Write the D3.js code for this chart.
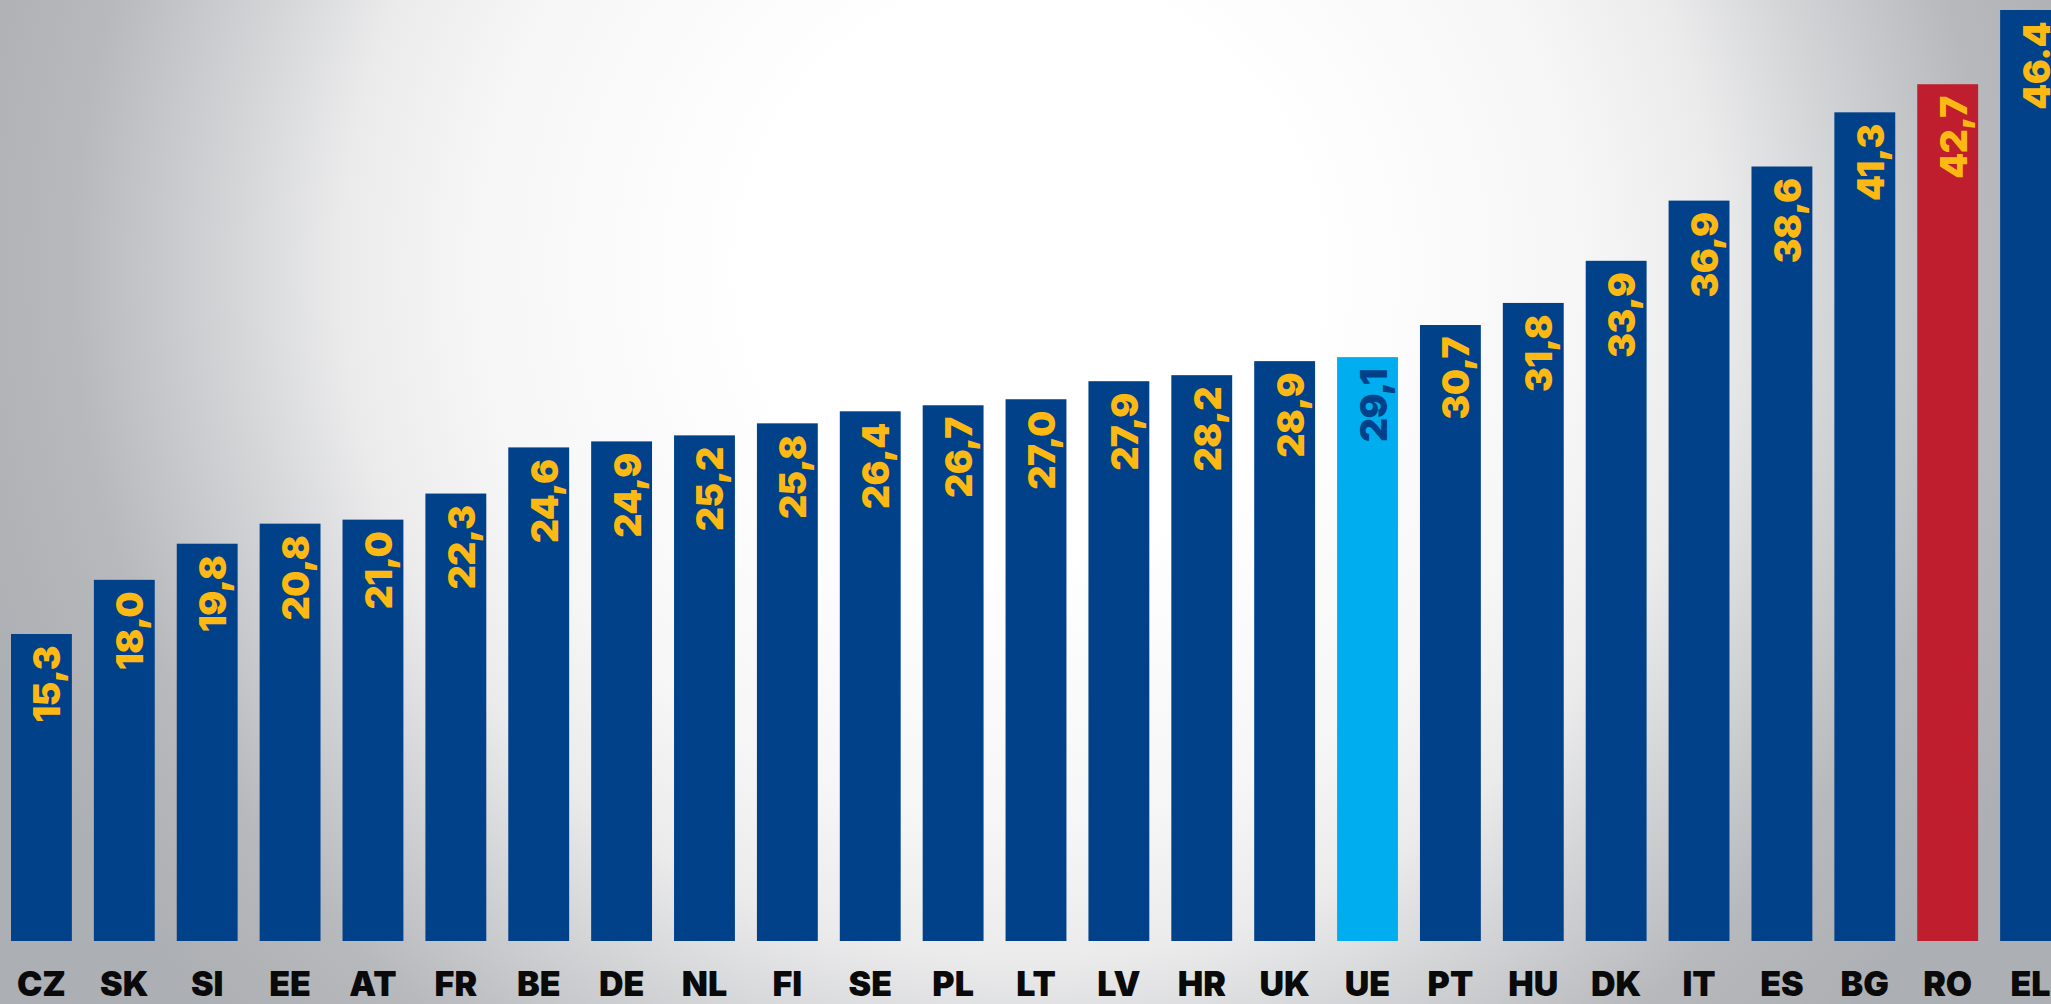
<!DOCTYPE html>
<html>
<head>
<meta charset="utf-8">
<script src="https://cdn.jsdelivr.net/npm/d3@7"></script>
<style>
  html, body { margin: 0; padding: 0; overflow: hidden; }
  svg { display: block; }
</style>
</head>
<body>
<svg id="chart" width="2051" height="1004"></svg>
<script>
const countries = ["CZ","SK","SI","EE","AT","FR","BE","DE","NL","FI","SE","PL","LT","LV","HR","UK","UE","PT","HU","DK","IT","ES","BG","RO","EL"]
const values = [15.3,18.0,19.8,20.8,21.0,22.3,24.6,24.9,25.2,25.8,26.4,26.7,27.0,27.9,28.2,28.9,29.1,30.7,31.8,33.9,36.9,38.6,41.3,42.7,46.4]
const valueLabels = ["15,3","18,0","19,8","20,8","21,0","22,3","24,6","24,9","25,2","25,8","26,4","26,7","27,0","27,9","28,2","28,9","29,1","30,7","31,8","33,9","36,9","38,6","41,3","42,7","46.4"]

const c_blue = "#00418a", c_light = "#00aeef", c_red = "#be1e2d", c_yellow = "#fdb913"
const barColor = d => d === "UE" ? c_light : d === "RO" ? c_red : c_blue

const width = 2051, height = 1004
const svg = d3.select("#chart")

// background
const defs = svg.append("defs")
const grad = defs.append("radialGradient")
  .attr("id", "bg")
  .attr("gradientUnits", "userSpaceOnUse")
  .attr("cx", 1030).attr("cy", 270).attr("r", 1110)
const stops = [[0, "#ffffff"], [0.25, "#ffffff"], [0.5, "#f6f6f6"], [0.62, "#ebebec"], [0.72, "#d4d5d7"], [0.86, "#b7b9bc"], [1, "#acafb3"]]
stops.forEach(s => grad.append("stop").attr("offset", s[0]).attr("stop-color", s[1]))
svg.append("rect").attr("width", width).attr("height", height).attr("fill", "url(#bg)")

const x = d3.scaleBand()
  .domain(countries)
  .range([11, 2061])
  .paddingInner(0.2655)
  .paddingOuter(0)

const y = d3.scaleLinear()
  .domain([0, 46.4])
  .range([941, 10])

const data = countries.map((c, i) => ({c, v: values[i], t: valueLabels[i]}))

// bars
svg.append("g").selectAll("rect")
  .data(data)
  .join("rect")
  .attr("x", d => x(d.c))
  .attr("y", d => y(d.v))
  .attr("width", x.bandwidth())
  .attr("height", d => y(0) - y(d.v))
  .attr("fill", d => barColor(d.c))

// values, rotated
svg.append("g").selectAll("text")
  .data(data)
  .join("text")
  .attr("transform", d => `translate(${x(d.c) + x.bandwidth()/2 + 19},${y(d.v) + 12}) rotate(-90)`)
  .attr("text-anchor", "end")
  .attr("font-family", "Inter, 'DejaVu Sans', sans-serif")
  .attr("font-weight", 900)
  .attr("font-size", 37)
  .attr("letter-spacing", -0.5)
  .attr("fill", d => d.c === "UE" ? c_blue : c_yellow)
  .text(d => d.t)

// country axis
const axis = svg.append("g")
  .attr("transform", `translate(0,${y(0)})`)
  .call(d3.axisBottom(x).tickSize(0).tickPadding(0))
axis.select(".domain").remove()
axis.selectAll("text")
  .attr("dy", null)
  .attr("y", 55)
  .attr("font-family", "Inter, 'DejaVu Sans', sans-serif")
  .attr("font-weight", 900)
  .attr("font-size", 34)
  .attr("fill", "#0a0a0a")
</script>
</body>
</html>
